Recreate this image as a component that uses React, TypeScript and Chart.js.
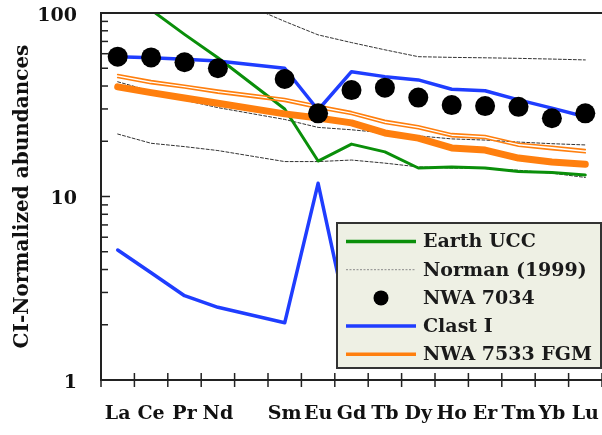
import React, { useEffect, useRef } from "react";
import { Chart, registerables } from "chart.js";
Chart.register(...registerables);

const categories = ["La", "Ce", "Pr", "Nd", "", "Sm", "Eu", "Gd", "Tb", "Dy", "Ho", "Er", "Tm", "Yb", "Lu"];
const yTickLabels = [1, 10, 100];

const earthUCC = [127, 104, 76.5, 57, null, 30, 15.6, 19.3, 17.5, 14.3, 14.5, 14.3, 13.7, 13.5, 13.1];
const normanHigh = [180, 160, 145, 129, null, 90, 76, 69, 63, 57.8, 57.3, 57, 56.6, 56.1, 55.5];
const normanMid = [42.2, 37.5, 33.5, 30.5, null, 26.3, 23.8, 23.1, 22.2, 21.4, 20.6, 20.3, 19.8, 19.4, 19.1];
const normanLow = [21.9, 19.5, 18.7, 17.8, null, 15.5, 15.5, 15.8, 15.2, 14.5, 14.3, 14.2, 13.9, 13.4, 12.7];
const nwa7034 = [57.8, 57.3, 53.9, 50.0, null, 43.7, 28.4, 38.0, 39.2, 34.6, 31.5, 31.1, 30.8, 26.7, 28.4];
const clastHigh = [57.8, 57, 56, 54.8, null, 50, 29.6, 47.9, 45, 43.2, 38.4, 37.7, 33.6, 30.3, 27.2];
const clastLow = [5.11, 3.84, 2.88, 2.49, null, 2.05, 11.8, 1.7, 1.6, 1.5, 1.45, 1.4, 1.4, 1.35, 1.35];
const fgm = [39.6, 36.8, 34.4, 32.2, null, 28.2, 26.8, 25.2, 22.2, 20.8, 18.4, 17.9, 16.2, 15.4, 15.0];
const fgmThinA = [46.2, 42.8, 40.4, 38.0, null, 34.2, 31.4, 29.0, 26.0, 24.3, 22.0, 21.5, 19.5, 18.8, 18.0];
const fgmThinB = [44.5, 41.2, 39.0, 36.6, null, 33.0, 30.2, 28.0, 25.0, 23.4, 21.2, 20.7, 18.8, 18.0, 17.3];

const legendItems = [
  { label: "Earth UCC", kind: "line", color: "#0a8f0a", width: 3.5 },
  { label: "Norman (1999)", kind: "dash", color: "#8a8a8a", width: 1 },
  { label: "NWA 7034", kind: "dot", color: "#000000", width: 0 },
  { label: "Clast I", kind: "line", color: "#1f3dff", width: 3.5 },
  { label: "NWA 7533 FGM", kind: "line", color: "#ff7f0e", width: 3.5 },
];

const FONT = "'DejaVu Serif', serif";
const GREEN = "#0a8f0a";
const BLUE = "#1f3dff";
const ORANGE = "#ff7f0e";

const decor = {
  id: "decor",
  afterDatasetsDraw(chart: any) {
    const { ctx, chartArea, scales } = chart;
    const { left, right, top, bottom } = chartArea;
    const x = scales.x;
    const y = scales.y;
    ctx.save();
    ctx.strokeStyle = "#222";
    ctx.lineWidth = 2;
    ctx.beginPath();
    ctx.moveTo(left, top);
    ctx.lineTo(right, top);
    ctx.stroke();
    // y minor/major ticks (inward)
    ctx.lineWidth = 1.5;
    for (const dec of [1, 10, 100]) {
      for (let m = 1; m <= 9; m++) {
        const v = dec * m;
        if (v > 100) break;
        const py = y.getPixelForValue(v);
        const len = m === 1 ? 9 : 7;
        ctx.beginPath();
        ctx.moveTo(left, py);
        ctx.lineTo(left + len, py);
        ctx.stroke();
      }
    }
    // x ticks at category boundaries
    const w = x.getPixelForValue(1) - x.getPixelForValue(0);
    for (let i = 0; i <= categories.length; i++) {
      const px = x.getPixelForValue(0) - w / 2 + i * w;
      ctx.beginPath();
      ctx.moveTo(px, bottom - 7);
      ctx.lineTo(px, bottom + 7);
      ctx.stroke();
    }
    // legend box
    const bw = 264, bh = 145;
    const bx = right - 1 - bw;
    const by = bottom - 12 - bh;
    ctx.fillStyle = "#eef0e4";
    ctx.fillRect(bx, by, bw, bh);
    ctx.strokeStyle = "#333";
    ctx.lineWidth = 2;
    ctx.strokeRect(bx, by, bw, bh);
    ctx.font = `bold 19px ${FONT}`;
    ctx.textBaseline = "middle";
    ctx.textAlign = "left";
    legendItems.forEach((it, i) => {
      const cy = by + 18.5 + i * 28.2;
      const x0 = bx + 9, x1 = bx + 79;
      if (it.kind === "line") {
        ctx.strokeStyle = it.color;
        ctx.lineWidth = it.width;
        ctx.setLineDash([]);
        ctx.beginPath();
        ctx.moveTo(x0, cy);
        ctx.lineTo(x1, cy);
        ctx.stroke();
      } else if (it.kind === "dash") {
        ctx.strokeStyle = it.color;
        ctx.lineWidth = it.width;
        ctx.setLineDash([2, 1.5]);
        ctx.beginPath();
        ctx.moveTo(x0, cy);
        ctx.lineTo(x1, cy);
        ctx.stroke();
        ctx.setLineDash([]);
      } else {
        ctx.fillStyle = it.color;
        ctx.beginPath();
        ctx.arc((x0 + x1) / 2, cy, 7.5, 0, Math.PI * 2);
        ctx.fill();
      }
      ctx.fillStyle = "#1a1a1a";
      ctx.fillText(it.label, bx + 86, cy + 1);
    });
    ctx.restore();
  },
};

function lineDs(label: string, data: (number | null)[], color: string, width: number, dash: number[] = []) {
  return {
    label,
    data,
    borderColor: color,
    backgroundColor: color,
    borderWidth: width,
    borderDash: dash,
    pointRadius: 0,
    fill: false,
    tension: 0,
    spanGaps: true,
    borderJoinStyle: "round" as const,
    borderCapStyle: "round" as const,
  };
}

export default function App() {
  const ref = useRef<HTMLCanvasElement | null>(null);
  useEffect(() => {
    document.body.style.margin = "0";
    if (!ref.current) return;
    const chart = new Chart(ref.current, {
      type: "line",
      data: {
        labels: categories,
        datasets: [
          {
            label: "NWA 7034",
            data: nwa7034,
            showLine: false,
            pointRadius: 10,
            pointBackgroundColor: "#000",
            pointBorderColor: "#000",
            pointBorderWidth: 0,
            spanGaps: true,
          } as any,
          lineDs("Clast I", clastHigh, BLUE, 3.5),
          lineDs("Clast I low", clastLow, BLUE, 3.5),
          lineDs("NWA 7533 FGM", fgm, ORANGE, 7),
          lineDs("FGM thin A", fgmThinA, ORANGE, 1.6),
          lineDs("FGM thin B", fgmThinB, ORANGE, 1.6),
          lineDs("Earth UCC", earthUCC, GREEN, 3),
          lineDs("Norman high", normanHigh, "#333", 1, [3, 2]),
          lineDs("Norman mid", normanMid, "#333", 1, [3, 2]),
          lineDs("Norman low", normanLow, "#333", 1, [3, 2]),
        ],
      },
      options: {
        animation: false,
        responsive: false,
        maintainAspectRatio: false,
        devicePixelRatio: 1,
        layout: { autoPadding: false, padding: { top: 13, right: 0, left: 0, bottom: 0 } },
        plugins: { legend: { display: false }, tooltip: { enabled: false } },
        scales: {
          x: {
            type: "category",
            offset: true,
            grid: { display: false, drawTicks: false },
            border: { display: true, color: "#222", width: 2 },
            ticks: {
              font: { family: FONT, size: 19, weight: "bold" },
              color: "#111",
              padding: 23,
              maxRotation: 0,
              autoSkip: false,
            },
            afterFit: (s: any) => {
              s.height = 55;
              s.paddingLeft = 0;
              s.paddingRight = 0;
              s.paddingTop = 0;
              s.paddingBottom = 0;
            },
          },
          y: {
            type: "logarithmic",
            min: 1,
            max: 100,
            grid: { display: false, drawTicks: false },
            border: { display: true, color: "#222", width: 2 },
            ticks: {
              autoSkip: false,
              padding: 24,
              labelOffset: 3,
              color: "#111",
              font: { family: FONT, size: 19, weight: "bold" },
              callback: (v: any) => (yTickLabels.includes(Number(v)) ? String(v) : ""),
            },
            title: {
              display: true,
              text: "CI-Normalized abundances",
              color: "#111",
              font: { family: FONT, size: 20, weight: "bold" },
              padding: { top: 11, bottom: 0 },
            },
            afterFit: (s: any) => {
              s.width = 101;
              s.paddingLeft = 0;
              s.paddingRight = 0;
              s.paddingTop = 0;
              s.paddingBottom = 0;
            },
          },
        },
      },
      plugins: [decor],
    });
    return () => chart.destroy();
  }, []);
  return <canvas ref={ref} width={602} height={435} style={{ display: "block" }} />;
}
